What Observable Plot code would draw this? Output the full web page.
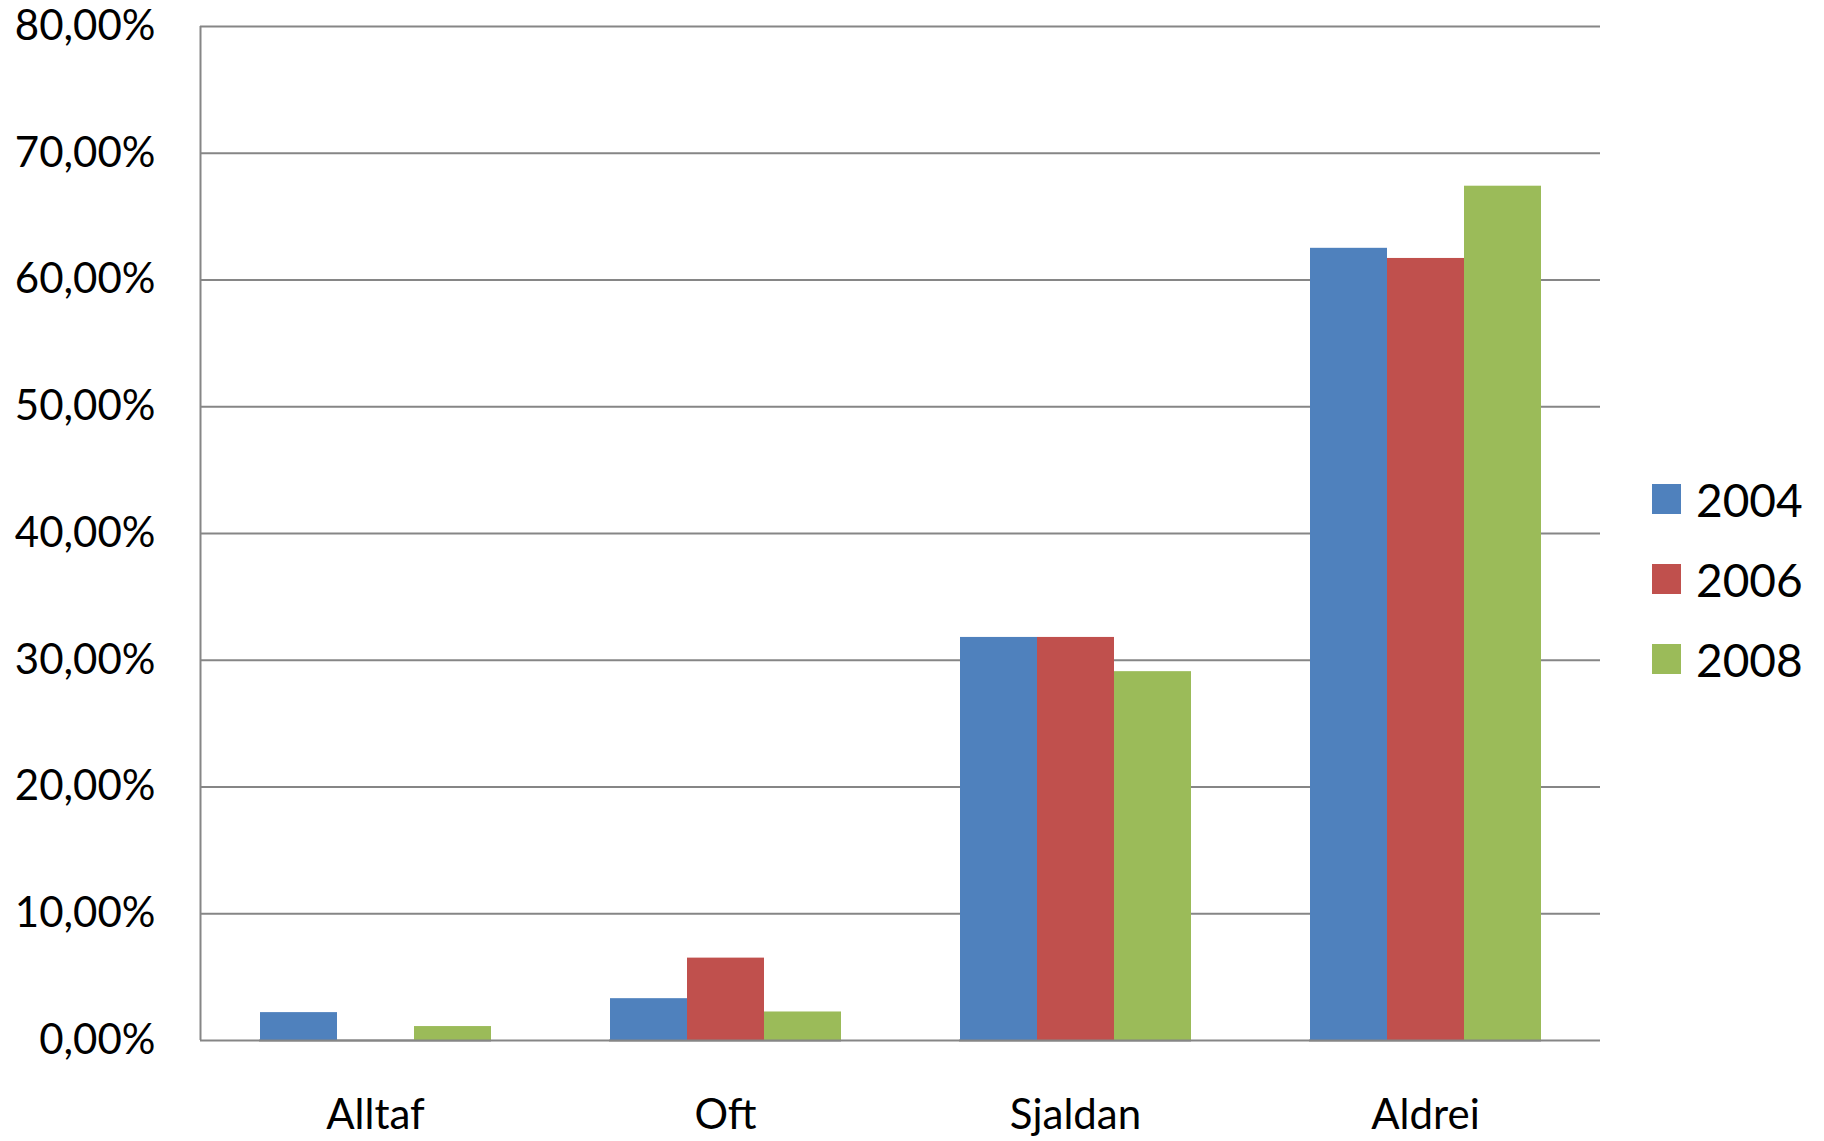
<!DOCTYPE html>
<html>
<head>
<meta charset="utf-8">
<script src="https://cdn.jsdelivr.net/npm/d3@7"></script>
<script src="https://cdn.jsdelivr.net/npm/@observablehq/plot@0.6"></script>
<style>
  html, body { margin: 0; padding: 0; background: #fff; }
  #chart { position: relative; width: 1824px; height: 1141px; font-family: Lato, "Liberation Sans", sans-serif; }
  #chart svg { position: absolute; left: 0; top: 0; background: transparent; }
  #chart svg text { fill: #000; }
  #legend { position: absolute; left: 1652px; top: 459px; display: flex; flex-direction: column; }
  .row { height: 80px; display: flex; align-items: center; font-size: 46px; color: #000; }
  .sw { width: 29px; height: 30px; margin-right: 15px; }
</style>
</head>
<body>
<div id="chart"><div id="legend"></div></div>
<script>
const categories = ["Alltaf", "Oft", "Sjaldan", "Aldrei"];
const years = ["2004", "2006", "2008"];
const values2004 = [2.2, 3.3, 31.8, 62.5];
const values2006 = [0, 6.5, 31.8, 61.7];
const values2008 = [1.1, 2.25, 29.1, 67.4];
const yTicks = [0, 10, 20, 30, 40, 50, 60, 70, 80];
const colors = ["#4F81BD", "#C0504D", "#9BBB59"];

const series = [values2004, values2006, values2008];
const rows = [];
categories.forEach((c, i) => {
  years.forEach((y, j) => rows.push({cat: c, year: y, value: series[j][i]}));
});

const W = 1824, H = 1141;
const margins = {marginLeft: 200, marginRight: 224, marginTop: 26, marginBottom: 101};
const fmt = d => d.toFixed(2).replace(".", ",") + "%";

const base = Plot.plot({
  width: W, height: H, ...margins,
  style: {fontFamily: "Lato, 'Liberation Sans', sans-serif", fontSize: "42px", background: "transparent", color: "#000", overflow: "visible"},
  x: {domain: [0, categories.length], ticks: categories.map((c, i) => i + 0.5),
      tickFormat: v => categories[Math.floor(v)], tickSize: 0, tickPadding: 59, label: null},
  y: {domain: [0, 80], ticks: yTicks, tickFormat: fmt, tickSize: 0, tickPadding: 45, label: null},
  marks: [
    Plot.ruleY(yTicks, {stroke: "#868686", strokeWidth: 2}),
    Plot.ruleX([0], {y1: 0, y2: 80, stroke: "#868686", strokeWidth: 2})
  ]
});

const bars = Plot.plot({
  width: W, height: H, ...margins,
  style: {background: "transparent"},
  facet: {data: rows, x: "cat"},
  fx: {domain: categories, paddingInner: 0.337, paddingOuter: 0.1685, axis: null, label: null},
  x: {domain: years, padding: 0, axis: null},
  y: {domain: [0, 80], axis: null},
  color: {domain: years, range: colors},
  marks: [
    Plot.barY(rows, {x: "year", y: "value", fill: "year"}),
    Plot.ruleY([0], {stroke: "#868686", strokeWidth: 2})
  ]
});

const chart = document.getElementById("chart");
chart.insertBefore(bars, chart.firstChild);
chart.insertBefore(base, chart.firstChild);

const legend = document.getElementById("legend");
years.forEach((y, j) => {
  const r = document.createElement("div");
  r.className = "row";
  r.innerHTML = `<div class="sw" style="background:${colors[j]}"></div><span>${y}</span>`;
  legend.appendChild(r);
});
</script>
</body>
</html>
